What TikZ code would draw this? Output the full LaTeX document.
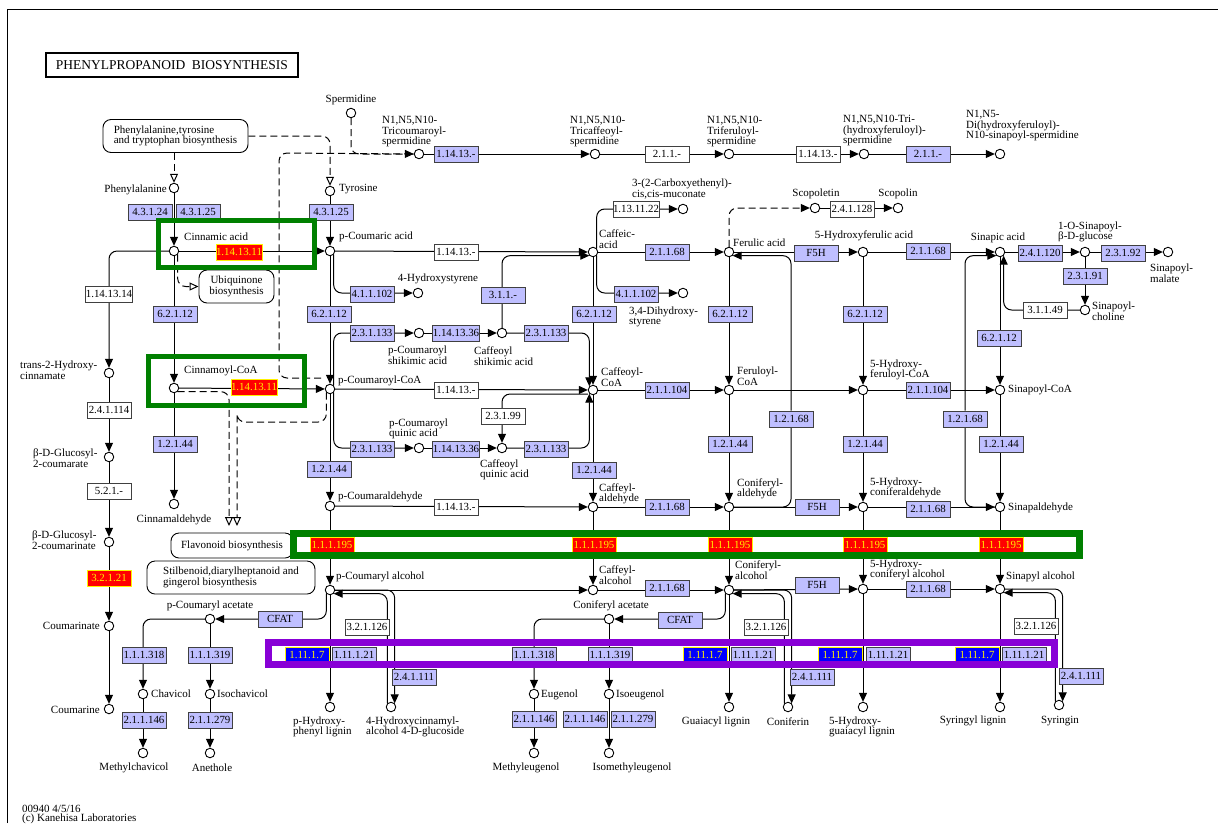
\documentclass[tikz,border=0pt]{standalone}
\usepackage{fontspec}
\setmainfont{Liberation Serif}
\usetikzlibrary{arrows.meta}

\definecolor{keggLav}{RGB}{191,191,255}
\definecolor{keggGreen}{RGB}{0,128,0}
\definecolor{keggPurple}{RGB}{136,0,214}
\newcommand\cpdfont{\fontsize{11}{10.5}\selectfont}
\newcommand\ecfont{\fontsize{10.9}{10.9}\selectfont}

\pgfdeclarelayer{bg}
\pgfsetlayers{bg,main}

\tikzset{
  cpd/.style={circle,draw,fill=white,line width=0.9pt,inner sep=0pt,minimum size=9.5pt},
  ec/.style={draw=black!75,fill=keggLav,line width=0.9pt,inner sep=0pt,
    minimum width=44pt,minimum height=16pt,font=\ecfont},
  ecw/.style={ec,fill=white},
  ecr/.style={ec,fill=red,draw=yellow,text=yellow},
  ecb/.style={ec,fill=blue,draw=yellow,text=yellow},
  lbl/.style={inner sep=0pt,font=\cpdfont,align=left},
  mapbox/.style={draw,line width=0.9pt,rounded corners=8pt,fill=white,inner sep=0pt,font=\cpdfont},
  rxn/.style={line width=1pt,rounded corners=8pt,-{Triangle[length=9pt,width=8pt]}},
  link/.style={line width=1pt,dash pattern=on 7pt off 4pt,rounded corners=8pt},
  opentip/.style={-{Triangle[open,length=9pt,width=8pt]}},
  hilite/.style={line width=#1},
}

\begin{document}
\begin{tikzpicture}[x=1pt,y=-1pt]
\useasboundingbox (0,0) rectangle (1218,823);
\draw[line width=1pt] (7,823) -- (7,9) -- (1218,9);

\node[draw,line width=1.5pt,minimum width=252pt,minimum height=24pt,inner sep=0pt,
  font=\fontsize{13.5}{14}\selectfont] (title) at (172,65) {PHENYLPROPANOID\ \ BIOSYNTHESIS};

% pathway maps
\node[mapbox,minimum width=145pt,minimum height=33pt,align=left] (ptt) at (175.5,136) {Phenylalanine,tyrosine\\and tryptophan biosynthesis};
\node[mapbox,minimum width=75pt,minimum height=33pt,align=center] (ubq) at (236.5,286.5) {Ubiquinone\\biosynthesis};
\node[mapbox,minimum width=122pt,minimum height=25pt] (flav) at (232,545.5) {Flavonoid biosynthesis};
\node[mapbox,minimum width=168pt,minimum height=33pt,align=left] (stil) at (231,577.5) {Stilbenoid,diarylheptanoid and\\gingerol biosynthesis};

% compounds
\node[cpd] (spd) at (351,113) {};
\node[cpd] (tcs) at (419,154) {};
\node[cpd] (tcf) at (595,154) {};
\node[cpd] (tfs) at (729,154) {};
\node[cpd] (ths) at (864,154) {};
\node[cpd] (dhs) at (1000,154) {};
\node[cpd] (phe) at (174,188) {};
\node[cpd] (tyr) at (330,191) {};
\node[cpd] (cin) at (174,251) {};
\node[cpd] (pca) at (330,251) {};
\node[cpd] (hst) at (418,293) {};
\node[cpd] (caf) at (593,252) {};
\node[cpd] (ccm) at (683,209) {};
\node[cpd] (dhst) at (683,293) {};
\node[cpd] (fer) at (729,252) {};
\node[cpd] (scp) at (815,208) {};
\node[cpd] (scl) at (898,208) {};
\node[cpd] (hfa) at (863,252) {};
\node[cpd] (sin) at (1000,252) {};
\node[cpd] (sgl) at (1085,252) {};
\node[cpd] (smal) at (1168,252) {};
\node[cpd] (schol) at (1085,310) {};
\node[cpd] (t2h) at (109,373) {};
\node[cpd] (g2c) at (109,457) {};
\node[cpd] (g2cn) at (109,542) {};
\node[cpd] (cmn) at (109,626) {};
\node[cpd] (cme) at (109,709) {};
\node[cpd] (cincoa) at (174,388) {};
\node[cpd] (pcoa) at (330,389) {};
\node[cpd] (psa) at (419,333) {};
\node[cpd] (csa) at (502,333) {};
\node[cpd] (pqa) at (419,448) {};
\node[cpd] (cqa) at (502,448) {};
\node[cpd] (cafcoa) at (593,390) {};
\node[cpd] (fercoa) at (729,390) {};
\node[cpd] (hfcoa) at (863,390) {};
\node[cpd] (sincoa) at (1000,390) {};
\node[cpd] (cinald) at (174,504) {};
\node[cpd] (pcald) at (330,506) {};
\node[cpd] (cafald) at (593,507) {};
\node[cpd] (conald) at (729,507) {};
\node[cpd] (hcald) at (863,507) {};
\node[cpd] (sinald) at (1000,507) {};
\node[cpd] (pcalc) at (330,590) {};
\node[cpd] (cafalc) at (593,590) {};
\node[cpd] (conalc) at (729,590) {};
\node[cpd] (hcalc) at (863,589) {};
\node[cpd] (sinalc) at (1000,589) {};
\node[cpd] (pcac) at (210,619) {};
\node[cpd] (conac) at (609,619) {};
\node[cpd] (chav) at (143,694) {};
\node[cpd] (ichav) at (210,694) {};
\node[cpd] (eug) at (534,694) {};
\node[cpd] (ieug) at (609,694) {};
\node[cpd] (mchav) at (143,753) {};
\node[cpd] (aneth) at (210,753) {};
\node[cpd] (meug) at (534,753) {};
\node[cpd] (imeug) at (609,753) {};
\node[cpd] (phl) at (330,707) {};
\node[cpd] (hcg) at (391,707) {};
\node[cpd] (gl) at (729,707) {};
\node[cpd] (con) at (788,707) {};
\node[cpd] (hgl) at (863,707) {};
\node[cpd] (sl) at (1000,707) {};
\node[cpd] (syr) at (1059,705) {};

% compound names
\node[lbl] (l-spd) at (351,100) {Spermidine};
\node[lbl,anchor=west] (l-tcs) at (382,132) {N1,N5,N10-\\Tricoumaroyl-\\spermidine};
\node[lbl,anchor=west] (l-tcf) at (570,132) {N1,N5,N10-\\Tricaffeoyl-\\spermidine};
\node[lbl,anchor=west] (l-tfs) at (707,132) {N1,N5,N10-\\Triferuloyl-\\spermidine};
\node[lbl,anchor=west] (l-ths) at (843,131) {N1,N5,N10-Tri-\\(hydroxyferuloyl)-\\spermidine};
\node[lbl,anchor=west] (l-dhs) at (966,126) {N1,N5-\\Di(hydroxyferuloyl)-\\N10-sinapoyl-spermidine};
\node[lbl,anchor=east] (l-phe) at (167,190) {Phenylalanine};
\node[lbl,anchor=west] (l-tyr) at (339,189) {Tyrosine};
\node[lbl,anchor=west] (l-cin) at (184,237) {Cinnamic acid};
\node[lbl,anchor=west] (l-pca) at (339,237) {p-Coumaric acid};
\node[lbl] (l-hst) at (438,279) {4-Hydroxystyrene};
\node[lbl,anchor=west] (l-ccm) at (632,189) {3-(2-Carboxyethenyl)-\\cis,cis-muconate};
\node[lbl,anchor=west] (l-caf) at (599,239) {Caffeic-\\acid};
\node[lbl,anchor=west] (l-dhst) at (629,317) {3,4-Dihydroxy-\\styrene};
\node[lbl] (l-scp) at (816,194) {Scopoletin};
\node[lbl] (l-scl) at (898,194) {Scopolin};
\node[lbl,anchor=west] (l-fer) at (733,243) {Ferulic acid};
\node[lbl] (l-hfa) at (864,236) {5-Hydroxyferulic acid};
\node[lbl] (l-sin) at (998,238) {Sinapic acid};
\node[lbl,anchor=west] (l-sgl) at (1058,232) {1-O-Sinapoyl-\\β-D-glucose};
\node[lbl,anchor=west] (l-smal) at (1150,273) {Sinapoyl-\\malate};
\node[lbl,anchor=west] (l-schol) at (1092,311) {Sinapoyl-\\choline};
\node[lbl,anchor=west] (l-t2h) at (20,370) {trans-2-Hydroxy-\\cinnamate};
\node[lbl,anchor=west] (l-cincoa) at (184,371) {Cinnamoyl-CoA};
\node[lbl,anchor=west] (l-pcoa) at (338,381) {p-Coumaroyl-CoA};
\node[lbl,anchor=west] (l-psa) at (388,355) {p-Coumaroyl\\shikimic acid};
\node[lbl,anchor=west] (l-csa) at (474,356) {Caffeoyl\\shikimic acid};
\node[lbl,anchor=west] (l-cafcoa) at (601,377) {Caffeoyl-\\CoA};
\node[lbl,anchor=west] (l-pqa) at (389,429) {p-Coumaroyl\\quinic acid};
\node[lbl,anchor=west] (l-cqa) at (480,470) {Caffeoyl\\quinic acid};
\node[lbl,anchor=west] (l-fercoa) at (737,376) {Feruloyl-\\CoA};
\node[lbl,anchor=west] (l-hfcoa) at (870,370) {5-Hydroxy-\\feruloyl-CoA};
\node[lbl,anchor=west] (l-sincoa) at (1008,390) {Sinapoyl-CoA};
\node[lbl,anchor=west] (l-g2c) at (33,458) {β-D-Glucosyl-\\2-coumarate};
\node[lbl] (l-cinald) at (174,520) {Cinnamaldehyde};
\node[lbl,anchor=west] (l-pcald) at (338,497) {p-Coumaraldehyde};
\node[lbl,anchor=west] (l-cafald) at (599,494) {Caffeyl-\\aldehyde};
\node[lbl,anchor=west] (l-conald) at (737,489) {Coniferyl-\\aldehyde};
\node[lbl,anchor=west] (l-hcald) at (870,488) {5-Hydroxy-\\coniferaldehyde};
\node[lbl,anchor=west] (l-sinald) at (1008,508) {Sinapaldehyde};
\node[lbl,anchor=west] (l-g2cn) at (32,540) {β-D-Glucosyl-\\2-coumarinate};
\node[lbl,anchor=west] (l-pcalc) at (336,577) {p-Coumaryl alcohol};
\node[lbl,anchor=west] (l-cafalc) at (599,575) {Caffeyl-\\alcohol};
\node[lbl,anchor=west] (l-conalc) at (735,570) {Coniferyl-\\alcohol};
\node[lbl,anchor=west] (l-hcalc) at (870,570) {5-Hydroxy-\\coniferyl alcohol};
\node[lbl,anchor=west] (l-sinalc) at (1006,577) {Sinapyl alcohol};
\node[lbl] (l-pcac) at (210,606) {p-Coumaryl acetate};
\node[lbl] (l-conac) at (611,606) {Coniferyl acetate};
\node[lbl,anchor=east] (l-cmn) at (100,626) {Coumarinate};
\node[lbl,anchor=east] (l-cme) at (100,710) {Coumarine};
\node[lbl,anchor=west] (l-chav) at (151,694) {Chavicol};
\node[lbl,anchor=west] (l-ichav) at (217,694) {Isochavicol};
\node[lbl,anchor=west] (l-eug) at (541,695) {Eugenol};
\node[lbl,anchor=west] (l-ieug) at (616,695) {Isoeugenol};
\node[lbl] (l-mchav) at (134,768) {Methylchavicol};
\node[lbl] (l-aneth) at (212,768) {Anethole};
\node[lbl] (l-meug) at (526,768) {Methyleugenol};
\node[lbl] (l-imeug) at (632,768) {Isomethyleugenol};
\node[lbl,anchor=west] (l-phl) at (293,727) {p-Hydroxy-\\phenyl lignin};
\node[lbl,anchor=west] (l-hcg) at (366,727) {4-Hydroxycinnamyl-\\alcohol 4-D-glucoside};
\node[lbl] (l-gl) at (716,722) {Guaiacyl lignin};
\node[lbl] (l-con) at (788,722) {Coniferin};
\node[lbl,anchor=west] (l-hgl) at (829,727) {5-Hydroxy-\\guaiacyl lignin};
\node[lbl] (l-sl) at (973,721) {Syringyl lignin};
\node[lbl] (l-syr) at (1060,721) {Syringin};

% enzymes
\node[ec] (e43124) at (150,212) {4.3.1.24};
\node[ec] (e43125a) at (198,212) {4.3.1.25};
\node[ec] (e43125b) at (331,212) {4.3.1.25};
\node[ecr] (e1141311a) at (239,252) {1.14.13.11};
\node[ecw] (e1141314) at (109,294) {1.14.13.14};
\node[ec] (e62112a) at (175,314) {6.2.1.12};
\node[ec] (e62112b) at (329,314) {6.2.1.12};
\node[ec] (e411102a) at (372,294) {4.1.1.102};
\node[ec] (e11413a) at (456,154) {1.14.13.-};
\node[ecw] (e211a) at (667,154) {2.1.1.-};
\node[ecw] (e11413b) at (818,154) {1.14.13.-};
\node[ec] (e211b) at (928,154) {2.1.1.-};
\node[ecw] (e11413c) at (456,252) {1.14.13.-};
\node[ec] (e311) at (503,295) {3.1.1.-};
\node[ecw] (e1131122) at (636,209) {1.13.11.22};
\node[ec] (e21168a) at (667,252) {2.1.1.68};
\node[ec] (e411102b) at (636,294) {4.1.1.102};
\node[ec] (e62112c) at (594,314) {6.2.1.12};
\node[ec] (e62112d) at (730,314) {6.2.1.12};
\node[ecw] (e241128) at (852,209) {2.4.1.128};
\node[ec] (f5ha) at (816,253) {F5H};
\node[ec] (e21168b) at (928,251) {2.1.1.68};
\node[ec] (e241120) at (1040,253) {2.4.1.120};
\node[ec] (e23192) at (1123,253) {2.3.1.92};
\node[ec] (e23191) at (1085,276) {2.3.1.91};
\node[ecw] (e31149) at (1045,310) {3.1.1.49};
\node[ec] (e62112e) at (865,314) {6.2.1.12};
\node[ec] (e62112f) at (999,338) {6.2.1.12};
\node[ecw] (e241114) at (109,410) {2.4.1.114};
\node[ecw] (e521) at (109,491) {5.2.1.-};
\node[ecr] (e32121) at (109,578) {3.2.1.21};
\node[ecr] (e1141311b) at (254,387) {1.14.13.11};
\node[ec] (e12144a) at (175,444) {1.2.1.44};
\node[ec] (e12144b) at (329,469) {1.2.1.44};
\node[ec] (e231133a) at (372,333) {2.3.1.133};
\node[ec] (e1141336a) at (456,333) {1.14.13.36};
\node[ec] (e231133b) at (546,333) {2.3.1.133};
\node[ecw] (e11413d) at (456,390) {1.14.13.-};
\node[ecw] (e23199) at (503,416) {2.3.1.99};
\node[ec] (e231133c) at (372,449) {2.3.1.133};
\node[ec] (e1141336b) at (456,449) {1.14.13.36};
\node[ec] (e231133d) at (546,449) {2.3.1.133};
\node[ec] (e12144c) at (594,470) {1.2.1.44};
\node[ec] (e211104a) at (667,390) {2.1.1.104};
\node[ec] (e12168a) at (791,419) {1.2.1.68};
\node[ec] (e12144d) at (730,444) {1.2.1.44};
\node[ec] (e12144e) at (865,444) {1.2.1.44};
\node[ec] (e211104b) at (928,390) {2.1.1.104};
\node[ec] (e12168b) at (965,419) {1.2.1.68};
\node[ec] (e12144f) at (1001,444) {1.2.1.44};
\node[ecw] (e11413e) at (456,507) {1.14.13.-};
\node[ec] (e21168c) at (667,507) {2.1.1.68};
\node[ec] (f5hb) at (817,507) {F5H};
\node[ec] (e21168d) at (928,509) {2.1.1.68};
\node[ecr] (e111195a) at (332,545) {1.1.1.195};
\node[ecr] (e111195b) at (594,545) {1.1.1.195};
\node[ecr] (e111195c) at (730,545) {1.1.1.195};
\node[ecr] (e111195d) at (865,545) {1.1.1.195};
\node[ecr] (e111195e) at (1001,545) {1.1.1.195};
\node[ec] (e21168e) at (667,588) {2.1.1.68};
\node[ec] (f5hc) at (817,585) {F5H};
\node[ec] (e21168f) at (928,589) {2.1.1.68};
\node[ec] (cfata) at (280,619) {CFAT};
\node[ec] (cfatb) at (680,620) {CFAT};
\node[ecw] (e321126a) at (367,627) {3.2.1.126};
\node[ecw] (e321126b) at (766,627) {3.2.1.126};
\node[ecw] (e321126c) at (1036,626) {3.2.1.126};
\node[ec] (e241111a) at (414,677) {2.4.1.111};
\node[ec] (e241111b) at (812,677) {2.4.1.111};
\node[ec] (e241111c) at (1081,676) {2.4.1.111};
\node[ec] (e111318a) at (144,655) {1.1.1.318};
\node[ec] (e111319a) at (210,655) {1.1.1.319};
\node[ec] (e111318b) at (534,655) {1.1.1.318};
\node[ec] (e111319b) at (610,655) {1.1.1.319};
\node[ecb] (e11117a) at (307,655) {1.11.1.7};
\node[ec] (e111121a) at (354,655) {1.11.1.21};
\node[ecb] (e11117b) at (705,655) {1.11.1.7};
\node[ec] (e111121b) at (753,655) {1.11.1.21};
\node[ecb] (e11117c) at (840,655) {1.11.1.7};
\node[ec] (e111121c) at (888,655) {1.11.1.21};
\node[ecb] (e11117d) at (977,655) {1.11.1.7};
\node[ec] (e111121d) at (1024,655) {1.11.1.21};
\node[ec] (e211146a) at (144,720) {2.1.1.146};
\node[ec] (e211279a) at (210,720) {2.1.1.279};
\node[ec] (e211146b) at (534,719) {2.1.1.146};
\node[ec] (e211146c) at (585,719) {2.1.1.146};
\node[ec] (e211279b) at (633,719) {2.1.1.279};

\coordinate (pcoaDash) at (321,378);
\coordinate (flavA) at (229,526);
\coordinate (flavB) at (237,526);

\begin{pgfonlayer}{bg}
% links to other maps
\draw[link,opentip] (ptt.south -| phe) -- (phe);
\draw[link,opentip] (ptt.east) -| (tyr);
\draw[link,opentip] (cin.south east) |- (ubq.west);
\draw[link,opentip] (cincoa.south east) -| (flavA);
\draw[link,opentip] (pcoa.south west) |- (237,422) -| (flavB);
\draw[link] (spd) |- (tcs);
\draw[link,-{Triangle[length=9pt,width=8pt]}] (pcoaDash) -| (279,153) -- (tcs);
\draw[link,-{Triangle[length=9pt,width=8pt]}] (fer) |- (scp);

% spermidine conjugates
\draw[rxn] (tcs) -- (tcf);
\draw[rxn] (tcf) -- (tfs);
\draw[rxn] (tfs) -- (ths);
\draw[rxn] (ths) -- (dhs);

% acids
\draw[rxn] (phe) -- (cin);
\draw[rxn] (tyr) -- (pca);
\draw[rxn] (cin) -- (pca);
\draw[rxn] (pca) -- (caf);
\draw[rxn] (caf) -- (fer);
\draw[rxn] (fer) -- (hfa);
\draw[rxn] (hfa) -- (sin);
\draw[rxn] (sin) -- (sgl);
\draw[rxn] (sgl) -- (smal);
\draw[rxn] (sgl) -- (schol);
\draw[rxn] (schol) -| (sin.south east);
\draw[rxn] (scp) -- (scl);
\draw[rxn] (pca.south east) |- (hst);
\draw[rxn] (caf.north east) |- (ccm);
\draw[rxn] (caf.south east) |- (dhst);

% coumarine branch
\draw[rxn] (cin) -| (t2h);
\draw[rxn] (t2h) -- (g2c);
\draw[rxn] (g2c) -- (g2cn);
\draw[rxn] (g2cn) -- (cmn);
\draw[rxn] (cmn) -- (cme);

% CoA esters
\draw[rxn] (cin) -- (cincoa);
\draw[rxn] (pca) -- (pcoa);
\draw[rxn] (caf) -- (cafcoa);
\draw[rxn] (fer) -- (fercoa);
\draw[rxn] (hfa) -- (hfcoa);
\draw[rxn] (sin) -- (sincoa);
\draw[rxn] (cincoa) -- (pcoa);
\draw[rxn] (pcoa) -- (cafcoa);
\draw[rxn] (cafcoa) -- (fercoa);
\draw[rxn] (fercoa) -- (hfcoa);
\draw[rxn] (hfcoa) -- (sincoa);
\draw[rxn] (pcoa.north east) |- (psa);
\draw[rxn] (psa) -- (csa);
\draw[rxn] (csa) -| (cafcoa.north west);
\draw[rxn] (csa) |- (caf.south west);
\draw[rxn] (pcoa.south east) |- (pqa);
\draw[rxn] (pqa) -- (cqa);
\draw[rxn] (cqa) -| (cafcoa.south west);
\draw[rxn] ([yshift=-4pt]cafcoa.west) -| (cqa);

% aldehydes
\draw[rxn] (cincoa) -- (cinald);
\draw[rxn] (pcoa) -- (pcald);
\draw[rxn] (cafcoa) -- (cafald);
\draw[rxn] (fercoa) -- (conald);
\draw[rxn] (hfcoa) -- (hcald);
\draw[rxn] (sincoa) -- (sinald);
\draw[rxn] (pcald) -- (cafald);
\draw[rxn] (cafald) -- (conald);
\draw[rxn] (conald) -- (hcald);
\draw[rxn] (hcald) -- (sinald);
\draw[rxn] (conald) -| (e12168a) |- (fer.south east);
\draw[rxn] (sinald) -| (e12168b) |- (sin.south west);

% alcohols
\draw[rxn] (pcald) -- (pcalc);
\draw[rxn] (cafald) -- (cafalc);
\draw[rxn] (conald) -- (conalc);
\draw[rxn] (hcald) -- (hcalc);
\draw[rxn] (sinald) -- (sinalc);
\draw[rxn] (pcalc) -- (cafalc);
\draw[rxn] (cafalc) -- (conalc);
\draw[rxn] (conalc) -- (hcalc);
\draw[rxn] (hcalc) -- (sinalc);

% lignins and glucosides
\draw[rxn] (pcalc) -- (phl);
\draw[rxn] (conalc) -- (gl);
\draw[rxn] (hcalc) -- (hgl);
\draw[rxn] (sinalc) -- (sl);
\draw[rxn] (pcalc) -| (hcg.north east);
\draw[rxn] (hcg.north west) |- (pcalc.south east);
\draw[rxn] (conalc) -| (con.north east);
\draw[rxn] (con.north west) |- (conalc.south east);
\draw[rxn] (sinalc) -| (syr.north east);
\draw[rxn] (syr.north west) |- (sinalc.south east);

% phenylpropenes
\draw[rxn] (pcalc.south west) |- (pcac);
\draw[rxn] (pcac) -| (chav);
\draw[rxn] (pcac) -- (ichav);
\draw[rxn] (chav) -- (mchav);
\draw[rxn] (ichav) -- (aneth);
\draw[rxn] (conalc.south west) |- (conac);
\draw[rxn] (conac) -| (eug);
\draw[rxn] (conac) -- (ieug);
\draw[rxn] (eug) -- (meug);
\draw[rxn] (ieug) -- (imeug);
\end{pgfonlayer}

% highlights
\draw[keggGreen,hilite=5pt] (158.5,220.5) rectangle (314.5,267.5);
\draw[keggGreen,hilite=5pt] (148.5,356.5) rectangle (304.5,405.5);
\draw[keggGreen,hilite=7pt] (293.5,533.5) rectangle (1079.5,555.5);
\draw[keggPurple,hilite=7pt] (268.5,642.5) rectangle (1054.5,664.5);

\node[lbl,anchor=west] (stamp) at (22,809) {00940 4/5/16};
\node[lbl,anchor=west] (copy) at (22,819) {(c) Kanehisa Laboratories};
\end{tikzpicture}
\end{document}
